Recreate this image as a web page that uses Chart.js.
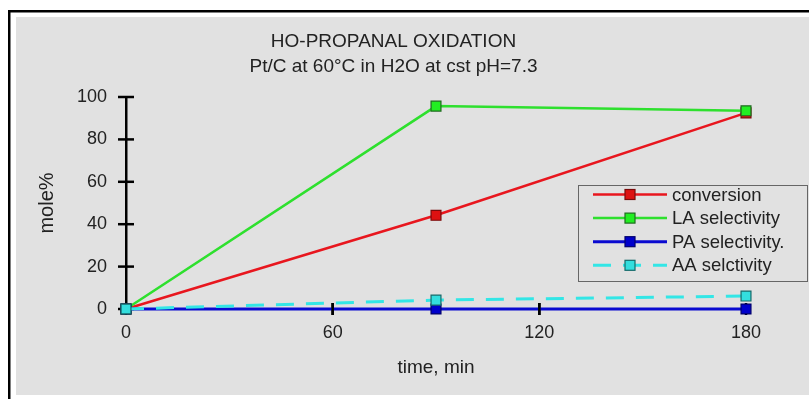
<!DOCTYPE html>
<html><head><meta charset="utf-8">
<script src="https://cdn.jsdelivr.net/npm/chart.js@4/dist/chart.umd.min.js"></script>
<style>html,body{margin:0;padding:0;background:#fff}#wrap{width:809px;height:399px}</style>
</head><body><div id="wrap"><canvas id="c" width="809" height="399"></canvas></div>
<script>
const times = [0, 90, 180];
const conversion = [0, 44.2, 92.5];
const laSelectivity = [0, 95.7, 93.5];
const paSelectivity = [0, 0, 0];
const aaSelectivity = [0, 4.2, 6.1];
const seriesNames = ['conversion', 'LA selectivity', 'PA selectivity.', 'AA selctivity'];
const xTickValues = [0, 60, 120, 180];
const yTickValues = [0, 20, 40, 60, 80, 100];
const titleText = 'HO-PROPANAL OXIDATION';
const subtitleText = 'Pt/C at 60°C in H2O at cst pH=7.3';
const xTitle = 'time, min';
const yTitle = 'mole%';

const FONT = '"Liberation Sans", Arial, sans-serif';
const toXY = arr => times.map((t, i) => ({x: t, y: arr[i]}));

const framePlugin = {
  id: 'frame',
  beforeDraw(chart) {
    const c = chart.ctx;
    c.save();
    c.fillStyle = '#ffffff'; c.fillRect(0, 0, 809, 399);
    c.fillStyle = '#000000';
    c.fillRect(8, 10, 801, 2.5);
    c.fillRect(8, 10, 2.5, 389);
    c.fillStyle = '#e1e1e1'; c.fillRect(16, 17, 793, 378);
    c.restore();
  }
};

function drawXTicks(chart, onlyFree) {
  const xs = chart.scales.x, ys = chart.scales.y, c = chart.ctx;
  const y0 = ys.getPixelForValue(0);
  c.save(); c.strokeStyle = '#000'; c.lineWidth = 2.5;
  xs.ticks.forEach(t => {
    if (onlyFree && times.includes(t.value)) return;
    const px = xs.getPixelForValue(t.value);
    c.beginPath(); c.moveTo(px, y0 - 6); c.lineTo(px, y0 + 6); c.stroke();
  });
  c.restore();
}

const tickPlugin = {
  id: 'crossTicks',
  beforeDatasetsDraw(chart) {
    const ys = chart.scales.y, c = chart.ctx, left = chart.chartArea.left;
    c.save(); c.strokeStyle = '#000'; c.lineWidth = 2.5;
    ys.ticks.forEach(t => {
      const py = ys.getPixelForValue(t.value);
      c.beginPath(); c.moveTo(left - 8, py); c.lineTo(left + 8, py); c.stroke();
    });
    c.restore();
    drawXTicks(chart, false);
  },
  afterDatasetsDraw(chart) { drawXTicks(chart, true); }
};

const legendPlugin = {
  id: 'boxLegend',
  afterDraw(chart, args, o) {
    const c = chart.ctx;
    c.save();
    c.strokeStyle = '#666'; c.lineWidth = 1;
    c.strokeRect(o.x + 0.5, o.y + 0.5, o.w, o.h);
    c.font = '18.5px ' + FONT;
    c.textBaseline = 'middle'; c.textAlign = 'left';
    chart.data.datasets.forEach((ds, i) => {
      const ry = o.firstRow + i * o.rowGap;
      c.strokeStyle = ds.borderColor; c.lineWidth = ds.borderWidth;
      c.setLineDash(ds.borderDash || []);
      c.beginPath(); c.moveTo(o.lineX0, ry); c.lineTo(o.lineX1, ry); c.stroke();
      c.setLineDash([]);
      const mx = (o.lineX0 + o.lineX1) / 2;
      c.fillStyle = ds.pointBackgroundColor; c.fillRect(mx - 5, ry - 5, 10, 10);
      c.strokeStyle = ds.pointBorderColor; c.lineWidth = 1.2; c.strokeRect(mx - 5, ry - 5, 10, 10);
      c.fillStyle = '#222'; c.fillText(ds.label, o.textX, ry + 1);
    });
    c.restore();
  }
};

const common = {fill: false, tension: 0, pointStyle: 'rect', pointRadius: 7, pointHoverRadius: 7, pointBorderWidth: 1.2, clip: false};

new Chart(document.getElementById('c'), {
  type: 'line',
  data: {
    datasets: [
      Object.assign({label: seriesNames[0], data: toXY(conversion), borderColor: '#e8161e', borderWidth: 2.5,
        pointBackgroundColor: '#dd1111', pointBorderColor: '#7a0a0a', order: 4}, common),
      Object.assign({label: seriesNames[1], data: toXY(laSelectivity), borderColor: '#2ee02e', borderWidth: 2.5,
        pointBackgroundColor: '#22ee22', pointBorderColor: '#1f6b1f', order: 3}, common),
      Object.assign({label: seriesNames[2], data: toXY(paSelectivity), borderColor: '#0a0ad0', borderWidth: 3,
        pointBackgroundColor: '#0000cc', pointBorderColor: '#00006e', order: 2}, common),
      Object.assign({label: seriesNames[3], data: toXY(aaSelectivity), borderColor: '#33e6e6', borderWidth: 3, borderDash: [18, 12],
        pointBackgroundColor: '#33dede', pointBorderColor: '#146a6a', order: 1}, common)
    ]
  },
  options: {
    responsive: false, animation: false, devicePixelRatio: 1,
    layout: {padding: {left: 0, right: 22, top: 0, bottom: 0}},
    plugins: {
      legend: {display: false},
      tooltip: {enabled: false},
      title: {display: true, text: titleText, color: '#222', font: {family: FONT, size: 19, weight: 'normal', lineHeight: 1.2}, padding: {top: 30.1, bottom: 2.2}},
      subtitle: {display: true, text: subtitleText, color: '#222', font: {family: FONT, size: 19, weight: 'normal', lineHeight: 1.2}, padding: {top: 0, bottom: 19.1}},
      boxLegend: {x: 578, y: 185, w: 229, h: 96, firstRow: 194.5, rowGap: 23.6, lineX0: 593, lineX1: 667, textX: 672}
    },
    scales: {
      x: {
        type: 'linear', min: 0, max: 180,
        afterBuildTicks: s => { s.ticks = xTickValues.map(v => ({value: v})); },
        afterFit: s => { s.height = 90; },
        grid: {display: false, drawTicks: false},
        border: {display: false},
        ticks: {color: '#222', font: {family: FONT, size: 18}, padding: 13.2},
        title: {display: true, text: xTitle, color: '#222', font: {family: FONT, size: 19}, padding: {top: 0, bottom: 19.6}}
      },
      y: {
        type: 'linear', min: 0, max: 100,
        afterBuildTicks: s => { s.ticks = yTickValues.map(v => ({value: v})); },
        afterFit: s => { s.width = 126; },
        grid: {display: false, drawTicks: false},
        border: {display: true, color: '#000', width: 2.5},
        ticks: {color: '#222', font: {family: FONT, size: 18}, padding: 19},
        title: {display: true, text: yTitle, color: '#222', font: {family: FONT, size: 20}, padding: {top: 35.5, bottom: 0}}
      },
      yr: {
        type: 'linear', position: 'right', min: 0, max: 100, display: true,
        afterFit: s => { s.width = 41; },
        grid: {display: false, drawTicks: false}, border: {display: false},
        ticks: {display: false}, title: {display: false}
      }
    }
  },
  plugins: [framePlugin, tickPlugin, legendPlugin]
});
</script></body></html>
